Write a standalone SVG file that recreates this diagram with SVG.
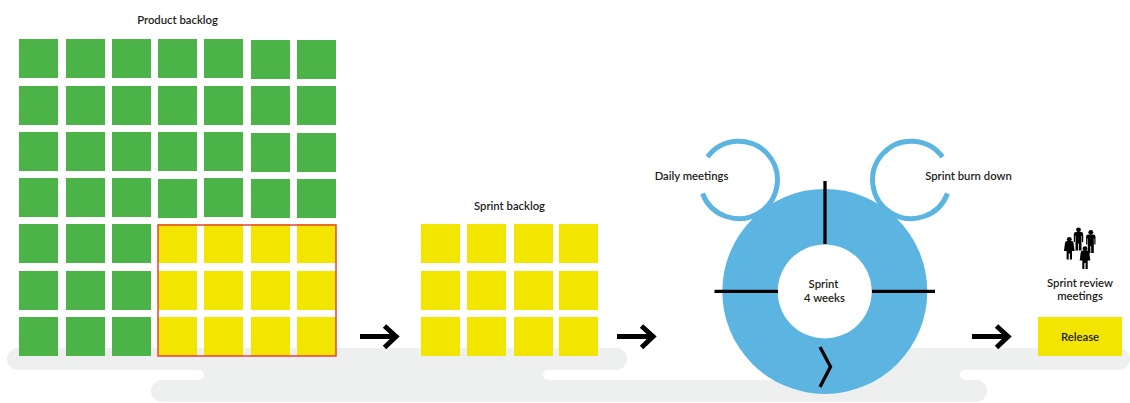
<svg xmlns="http://www.w3.org/2000/svg" width="1130" height="403" viewBox="0 0 1130 403">
<style>
text{font-family:Lato,"Noto Sans","Liberation Sans",sans-serif;font-size:11.300px;font-weight:600;fill:#1d1d1b;text-anchor:middle}
.lig{font-variant-ligatures:common-ligatures discretionary-ligatures}
.g{fill:#4cb348}.y{fill:#f2e500}
.k{stroke:#000;fill:none;stroke-width:3.300}
.a{stroke:#000;fill:none;stroke-width:5}
.r{fill:none;stroke:#5cb4e1;stroke-width:5}
</style>
<defs>
<rect id="gs" class="g" width="39" height="39"/>
<rect id="ys" class="y" width="39" height="39"/>
<path id="arr" d="M0 0H36M24.500-10.500L36 0 24.500 11" class="a"/>
<path id="man" d="M-2.500-3.500h5q2.200 0 2.200 2.200V6.500H3.500V0.500H3V15H.4V8h-.8v7H-3V.5h-.5v6h-1.200V-1.300q0-2.200 2.200-2.200z" fill="#000"/>
<path id="wom" d="M-2.200-3.500h4.400q1.800 0 2.100 2L5.300 6.500H2.700V15H.6V9h-1.200v6h-2.100V6.500h-2.600l1-8q.3-2 2.100-2z" fill="#000"/>
</defs>
<path id="ground" fill="#eef0ef" d="M18 348H616a11 11 0 0 1 0 22H548a5 5 0 0 0 0 10H830V348H1119a11 11 0 0 1 0 22H965a5 5 0 0 0 0 10H976a11 11 0 0 1 0 22H162a11 11 0 0 1 0-22H199a5 5 0 0 0 0-10H18a11 11 0 0 1 0-22Z"/>
<g id="product-backlog">
<text x="177.500" y="24">Product backlog</text>
<use href="#gs" x="19" y="39"/><use href="#gs" x="66" y="39"/><use href="#gs" x="112" y="39"/><use href="#gs" x="158" y="39"/><use href="#gs" x="204" y="39"/><use href="#gs" x="251" y="40"/><use href="#gs" x="297" y="40"/>
<use href="#gs" x="19" y="86"/><use href="#gs" x="66" y="86"/><use href="#gs" x="112" y="86"/><use href="#gs" x="158" y="86"/><use href="#gs" x="204" y="86"/><use href="#gs" x="251" y="86"/><use href="#gs" x="297" y="86"/>
<use href="#gs" x="19" y="132"/><use href="#gs" x="66" y="132"/><use href="#gs" x="112" y="132"/><use href="#gs" x="158" y="132"/><use href="#gs" x="204" y="132"/><use href="#gs" x="251" y="133"/><use href="#gs" x="297" y="133"/>
<use href="#gs" x="19" y="178"/><use href="#gs" x="66" y="178"/><use href="#gs" x="112" y="178"/><use href="#gs" x="158" y="179"/><use href="#gs" x="204" y="178"/><use href="#gs" x="251" y="179"/><use href="#gs" x="297" y="179"/>
<use href="#gs" x="19" y="224"/><use href="#gs" x="66" y="224"/><use href="#gs" x="112" y="224"/>
<use href="#gs" x="19" y="271"/><use href="#gs" x="66" y="271"/><use href="#gs" x="112" y="271"/>
<use href="#gs" x="19" y="317"/><use href="#gs" x="66" y="317"/><use href="#gs" x="112" y="317"/>
</g>
<g id="selection">
<use href="#ys" x="158" y="224"/><use href="#ys" x="204" y="224"/><use href="#ys" x="251" y="224"/><use href="#ys" x="297" y="224"/>
<use href="#ys" x="158" y="271"/><use href="#ys" x="204" y="271"/><use href="#ys" x="251" y="271"/><use href="#ys" x="297" y="271"/>
<use href="#ys" x="158" y="317"/><use href="#ys" x="204" y="317"/><use href="#ys" x="251" y="317"/><use href="#ys" x="297" y="317"/>
<rect x="158" y="225" width="178" height="131" fill="none" stroke="#e9423c" stroke-width="1.500"/>
</g>
<g id="sprint-backlog">
<text x="509.500" y="210">Sprint backlog</text>
<use href="#ys" x="421" y="224"/><use href="#ys" x="467" y="224"/><use href="#ys" x="514" y="224"/><use href="#ys" x="559" y="224"/>
<use href="#ys" x="421" y="271"/><use href="#ys" x="467" y="271"/><use href="#ys" x="514" y="271"/><use href="#ys" x="559" y="271"/>
<use href="#ys" x="421" y="317"/><use href="#ys" x="467" y="317"/><use href="#ys" x="514" y="317"/><use href="#ys" x="559" y="317"/>
</g>
<g id="sprint">
<circle cx="824.800" cy="291.400" r="102.500" fill="#5cb4e1"/>
<circle cx="824.700" cy="291.400" r="47" fill="#fff"/>
<text x="823.500" y="288">Sprint</text>
<text x="824.500" y="302">4 weeks</text>
</g>
<g id="daily-meetings">
<path class="r" d="M707.500 157A38.700 38.700 0 1 1 702.500 193.500"/>
<text class="lig" x="691.500" y="180">Daily meetings</text>
</g>
<g id="sprint-burn-down">
<path class="r" d="M942.500 157A38.700 38.700 0 1 0 947.500 193.500"/>
<text x="968.500" y="180">Sprint burn down</text>
</g>
<g id="review">
<use href="#man" x="1078.500" y="235.500"/><use href="#man" x="1090.800" y="238"/><use href="#wom" x="1069.300" y="244.500"/><use href="#wom" x="1085" y="254"/>
<circle cx="1078.500" cy="229.800" r="2.400"/><circle cx="1090.800" cy="232.300" r="2.400"/><circle cx="1069.300" cy="239.300" r="2.400"/><circle cx="1085" cy="248.700" r="2.400"/>
<text x="1080" y="287">Sprint review</text>
<text class="lig" x="1080" y="300">meetings</text>
</g>
<g id="release">
<rect class="y" x="1038" y="317" width="84" height="39"/>
<text x="1080" y="341">Release</text>
</g>
<g id="connectors">
<use href="#arr" x="360" y="336.500"/>
<use href="#arr" x="617" y="336.500"/>
<use href="#arr" x="972" y="336.500"/>
<path class="k" d="M825 181V244M714.500 291.300H778M872 291.300H935"/>
<path class="k" d="M820 347L830.500 366.800 820 387"/>
</g>
</svg>
